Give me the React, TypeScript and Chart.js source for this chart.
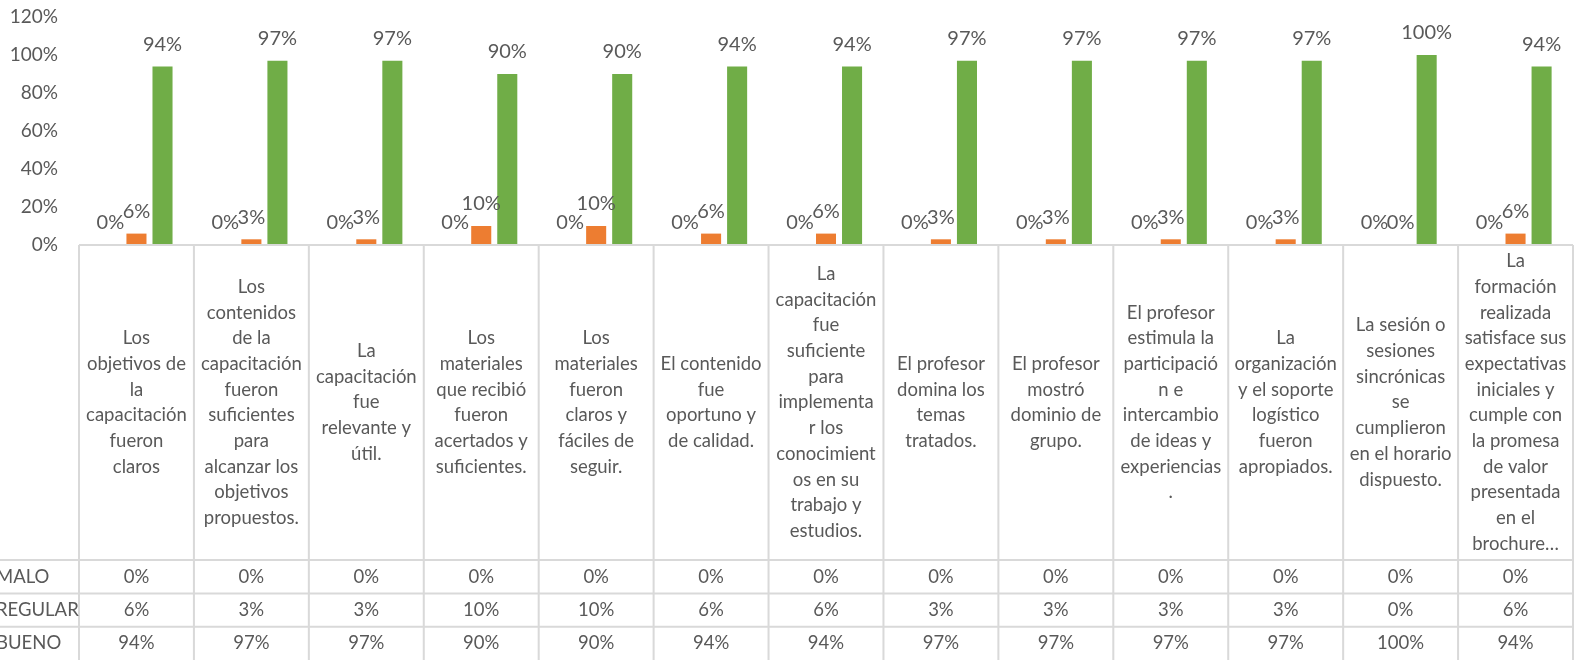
import React, { useEffect, useRef } from "react";
import { Chart, registerables } from "chart.js";

Chart.register(...registerables);

const categories: string[][] = [
  ["Los", "objetivos de", "la", "capacitación", "fueron", "claros"],
  ["Los", "contenidos", "de la", "capacitación", "fueron", "suficientes", "para", "alcanzar los", "objetivos", "propuestos."],
  ["La", "capacitación", "fue", "relevante y", "útil."],
  ["Los", "materiales", "que recibió", "fueron", "acertados y", "suficientes."],
  ["Los", "materiales", "fueron", "claros y", "fáciles de", "seguir."],
  ["El contenido", "fue", "oportuno y", "de calidad."],
  ["La", "capacitación", "fue", "suficiente", "para", "implementa", "r los", "conocimient", "os en su", "trabajo y", "estudios."],
  ["El profesor", "domina los", "temas", "tratados."],
  ["El profesor", "mostró", "dominio de", "grupo."],
  ["El profesor", "estimula la", "participació", "n e", "intercambio", "de ideas y", "experiencias", "."],
  ["La", "organización", "y el soporte", "logístico", "fueron", "apropiados."],
  ["La sesión o", "sesiones", "sincrónicas", "se", "cumplieron", "en el horario", "dispuesto."],
  ["La", "formación", "realizada", "satisface sus", "expectativas", "iniciales y", "cumple con", "la promesa", "de valor", "presentada", "en el", "brochure…"],
];

const seriesNames = ["MALO", "REGULAR", "BUENO"];
const malo = [0, 0, 0, 0, 0, 0, 0, 0, 0, 0, 0, 0, 0];
const regular = [6, 3, 3, 10, 10, 6, 6, 3, 3, 3, 3, 0, 6];
const bueno = [94, 97, 97, 90, 90, 94, 94, 97, 97, 97, 97, 100, 94];
const seriesColors = ["#4472C4", "#ED7D31", "#70AD47"];
const yTicks = [0, 20, 40, 60, 80, 100, 120];

const FONT = "Lato, 'Open Sans', sans-serif";
const TEXT = "#595959";
const GRID = "#d9d9d9";

const fmt = (v: number) => Math.round(v) + "%";

const labelPlugin = {
  id: "barLabels",
  afterDatasetsDraw(chart: any) {
    const ctx = chart.ctx;
    ctx.save();
    ctx.font = `20px ${FONT}`;
    ctx.fillStyle = TEXT;
    ctx.textAlign = "center";
    ctx.textBaseline = "middle";
    chart.data.datasets.forEach((ds: any, di: number) => {
      const meta = chart.getDatasetMeta(di);
      meta.data.forEach((el: any, i: number) => {
        ctx.fillText(fmt(ds.data[i]), el.x, el.y - 22);
      });
    });
    ctx.restore();
  },
};

const tablePlugin = {
  id: "dataTable",
  afterDraw(chart: any) {
    const ctx = chart.ctx;
    const area = chart.chartArea;
    const xs = chart.scales.x;
    const n = categories.length;
    const colW = (area.right - area.left) / n;
    const top = area.bottom;
    const headerBottom = 560;
    const rowH = 33.4;
    const bottom = chart.height;
    ctx.save();
    ctx.strokeStyle = GRID;
    ctx.lineWidth = 2;
    ctx.beginPath();
    ctx.moveTo(area.left, top);
    ctx.lineTo(area.right, top);
    for (let r = 0; r < 3; r++) {
      const y = headerBottom + r * rowH;
      ctx.moveTo(0, y);
      ctx.lineTo(area.right, y);
    }
    for (let i = 0; i <= n; i++) {
      const x = area.left + i * colW;
      ctx.moveTo(x, top);
      ctx.lineTo(x, bottom);
    }
    ctx.stroke();

    ctx.fillStyle = TEXT;
    ctx.font = `18.5px ${FONT}`;
    ctx.textAlign = "center";
    ctx.textBaseline = "middle";
    const lineH = 25.7;
    const headerMid = (top + headerBottom) / 2;
    categories.forEach((lines, i) => {
      const cx = xs.getPixelForValue(i);
      const start = headerMid - ((lines.length - 1) * lineH) / 2;
      lines.forEach((t, k) => ctx.fillText(t, cx, start + k * lineH));
    });
    const rows = [malo, regular, bueno];
    rows.forEach((vals, r) => {
      const cy = headerBottom + r * rowH + rowH / 2;
      ctx.textAlign = "left";
      ctx.fillText(seriesNames[r], -4, cy);
      ctx.textAlign = "center";
      vals.forEach((v, i) => ctx.fillText(fmt(v), xs.getPixelForValue(i), cy));
    });
    ctx.restore();
  },
};

export default function App() {
  const ref = useRef<HTMLCanvasElement | null>(null);
  useEffect(() => {
    if (!ref.current) return;
    const chart = new Chart(ref.current, {
      type: "bar",
      data: {
        labels: categories,
        datasets: [malo, regular, bueno].map((d, i) => ({
          label: seriesNames[i],
          data: d,
          backgroundColor: seriesColors[i],
          borderWidth: 0,
          categoryPercentage: 0.68,
          barPercentage: 0.77,
        })),
      },
      options: {
        animation: false,
        responsive: false,
        devicePixelRatio: 1,
        layout: { padding: { left: 0, right: 2, top: 17, bottom: 415 } },
        plugins: { legend: { display: false }, tooltip: { enabled: false } },
        scales: {
          x: { display: false, offset: true },
          y: {
            min: 0,
            max: 120,
            afterFit: (s: any) => {
              s.width = 79;
              s.paddingTop = 0;
              s.paddingBottom = 0;
            },
            afterBuildTicks: (s: any) => {
              s.ticks = yTicks.map((v) => ({ value: v }));
            },
            grid: { display: false, drawTicks: false },
            border: { display: false },
            ticks: {
              padding: 21,
              color: TEXT,
              font: { family: FONT, size: 19 },
              callback: (v: any) => v + "%",
            },
          },
        },
      },
      plugins: [labelPlugin, tablePlugin],
    });
    return () => chart.destroy();
  }, []);
  return (
    <canvas
      ref={ref}
      width={1575}
      height={660}
      style={{ position: "fixed", left: 0, top: 0, width: 1575, height: 660, background: "#fff" }}
    />
  );
}
